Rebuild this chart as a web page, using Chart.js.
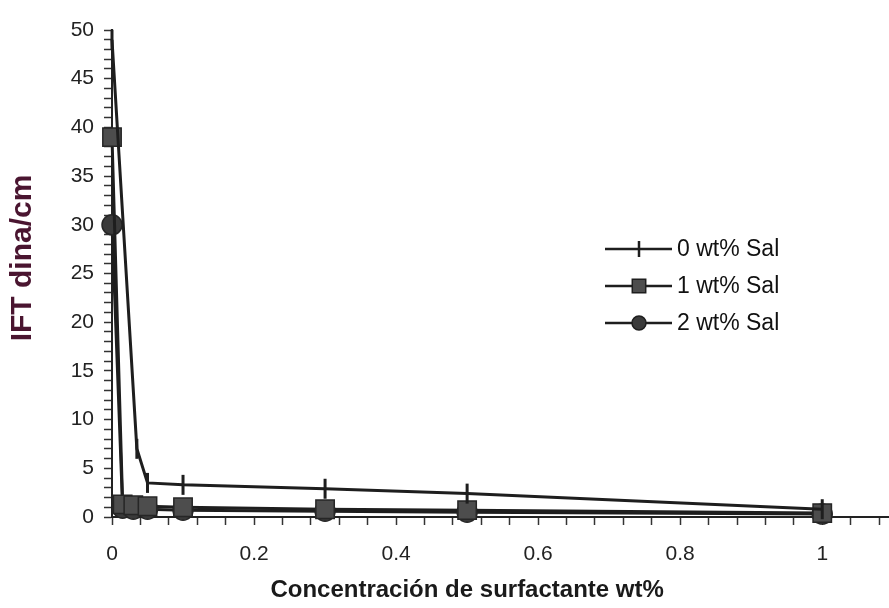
<!DOCTYPE html>
<html>
<head>
<meta charset="utf-8">
<script src="https://cdn.jsdelivr.net/npm/chart.js@4/dist/chart.umd.min.js"></script>
<style>
  html, body { margin: 0; padding: 0; background: #fff; }
  #wrap { width: 889px; height: 608px; }
</style>
</head>
<body>
<div id="wrap"><canvas id="iftChart" width="889" height="608"></canvas></div>
<script>
// Sample data
var seriesNames = ['0 wt% Sal', '1 wt% Sal', '2 wt% Sal'];
var conc0 = [0, 0.035, 0.05, 0.1, 0.3, 0.5, 1];
var ift0  = [49, 7, 3.5, 3.3, 2.9, 2.4, 0.8];
var conc1 = [0, 0.015, 0.03, 0.05, 0.1, 0.3, 0.5, 1];
var ift1  = [39, 1.3, 1.2, 1.1, 1.0, 0.8, 0.7, 0.4];
var conc2 = [0, 0.015, 0.03, 0.05, 0.1, 0.3, 0.5, 1];
var ift2  = [30, 0.9, 0.8, 0.8, 0.7, 0.6, 0.5, 0.3];
var xMajorTicks = [0, 0.2, 0.4, 0.6, 0.8, 1];
var yMajorTicks = [0, 5, 10, 15, 20, 25, 30, 35, 40, 45, 50];

function pairs(xs, ys) {
    return xs.map(function(x, i) { return { x: x, y: ys[i] }; });
}

var lineColor = '#1e1e1e';
var fontFamily = '"Liberation Sans", Arial, sans-serif';

// titles and the legend box, drawn on the canvas
var extrasPlugin = {
    id: 'extras',
    afterDraw: function(chart) {
        var ctx = chart.ctx;
        var xs = chart.scales.x;
        ctx.save();
        // x title, centred on the 0..1 part of the axis
        ctx.fillStyle = '#1a1a1a';
        ctx.font = 'bold 24px ' + fontFamily;
        ctx.textAlign = 'center';
        ctx.textBaseline = 'middle';
        ctx.fillText('Concentración de surfactante wt%', (xs.getPixelForValue(0) + xs.getPixelForValue(1)) / 2, 590);
        // y title
        ctx.translate(23, 258);
        ctx.rotate(-Math.PI / 2);
        ctx.fillStyle = '#4a1530';
        ctx.font = 'bold 30px ' + fontFamily;
        ctx.fillText('IFT dina/cm', 0, 0);
        ctx.restore();

        // legend
        ctx.save();
        var rows = [249, 286, 323];
        var legendStyles = [
            { pointStyle: 'line', rotation: 90, radius: 8, borderWidth: 2.5, borderColor: lineColor, backgroundColor: lineColor },
            { pointStyle: 'rect', rotation: 0, radius: 9.5, borderWidth: 1.5, borderColor: lineColor, backgroundColor: '#4d4d4d' },
            { pointStyle: 'circle', rotation: 0, radius: 7, borderWidth: 1.5, borderColor: lineColor, backgroundColor: '#3a3a3a' }
        ];
        seriesNames.forEach(function(name, i) {
            var y = rows[i];
            ctx.strokeStyle = lineColor;
            ctx.lineWidth = 2.5;
            ctx.beginPath();
            ctx.moveTo(605, y);
            ctx.lineTo(672, y);
            ctx.stroke();
            var st = legendStyles[i];
            ctx.strokeStyle = st.borderColor;
            ctx.fillStyle = st.backgroundColor;
            ctx.lineWidth = st.borderWidth;
            Chart.helpers.drawPoint(ctx, st, 639, y);
            ctx.fillStyle = '#111';
            ctx.font = '23px ' + fontFamily;
            ctx.textAlign = 'left';
            ctx.textBaseline = 'middle';
            ctx.fillText(name, 677, y + 1);
        });
        ctx.restore();
    }
};

var ctx = document.getElementById('iftChart').getContext('2d');

var myChart = new Chart(ctx, {
    type: 'line',
    data: {
        datasets: [{
            label: seriesNames[0],
            data: pairs(conc0, ift0),
            borderColor: lineColor,
            backgroundColor: lineColor,
            borderWidth: 3,
            pointStyle: 'line',
            rotation: 90,
            pointRadius: 10,
            pointBorderWidth: 3,
            pointBorderColor: lineColor,
            fill: false,
            tension: 0,
            clip: false
        }, {
            label: seriesNames[1],
            data: pairs(conc1, ift1),
            borderColor: lineColor,
            backgroundColor: '#4d4d4d',
            borderWidth: 3,
            pointStyle: 'rect',
            pointRadius: 13,
            pointBorderWidth: 1.5,
            pointBorderColor: '#262626',
            fill: false,
            tension: 0,
            clip: false
        }, {
            label: seriesNames[2],
            data: pairs(conc2, ift2),
            borderColor: lineColor,
            backgroundColor: '#3a3a3a',
            borderWidth: 3,
            pointStyle: 'circle',
            pointRadius: 10,
            pointBorderWidth: 1.5,
            pointBorderColor: '#262626',
            fill: false,
            tension: 0,
            clip: false
        }]
    },
    options: {
        responsive: false,
        animation: false,
        layout: { autoPadding: false, padding: { top: 30, left: 0, right: 0, bottom: 0 } },
        plugins: {
            legend: { display: false },
            tooltip: { enabled: false }
        },
        scales: {
            x: {
                type: 'linear',
                min: 0,
                max: 1.094,
                afterBuildTicks: function(scale) {
                    var t = [];
                    for (var i = 0; i <= 27; i++) t.push({ value: i * 0.04 });
                    scale.ticks = t;
                },
                afterFit: function(scale) {
                    scale.height = 91;
                    scale.paddingLeft = 0;
                    scale.paddingRight = 0;
                },
                ticks: {
                    autoSkip: false,
                    maxRotation: 0,
                    padding: 17,
                    color: '#222',
                    font: { family: fontFamily, size: 21 },
                    callback: function(value) {
                        for (var k = 0; k < xMajorTicks.length; k++) {
                            if (Math.abs(value - xMajorTicks[k]) < 1e-6) {
                                return xMajorTicks[k] === 0 || xMajorTicks[k] === 1 ? String(xMajorTicks[k]) : xMajorTicks[k].toFixed(1);
                            }
                        }
                        return '';
                    }
                },
                grid: {
                    drawOnChartArea: false,
                    drawTicks: true,
                    tickLength: 8,
                    tickWidth: 1.5,
                    tickColor: '#333'
                },
                border: { display: true, color: '#222', width: 2 }
            },
            y: {
                min: 0,
                max: 50,
                afterFit: function(scale) {
                    scale.width = 112;
                    scale.paddingTop = 0;
                    scale.paddingBottom = 0;
                },
                ticks: {
                    stepSize: 1,
                    autoSkip: false,
                    padding: 10,
                    color: '#222',
                    font: { family: fontFamily, size: 21 },
                    callback: function(value) {
                        return yMajorTicks.indexOf(value) >= 0 ? String(value) : '';
                    }
                },
                grid: {
                    drawOnChartArea: false,
                    drawTicks: true,
                    tickLength: 8,
                    tickWidth: 1.5,
                    tickColor: '#333'
                },
                border: { display: true, color: '#222', width: 2 }
            }
        }
    },
    plugins: [extrasPlugin]
});
</script>
</body>
</html>
